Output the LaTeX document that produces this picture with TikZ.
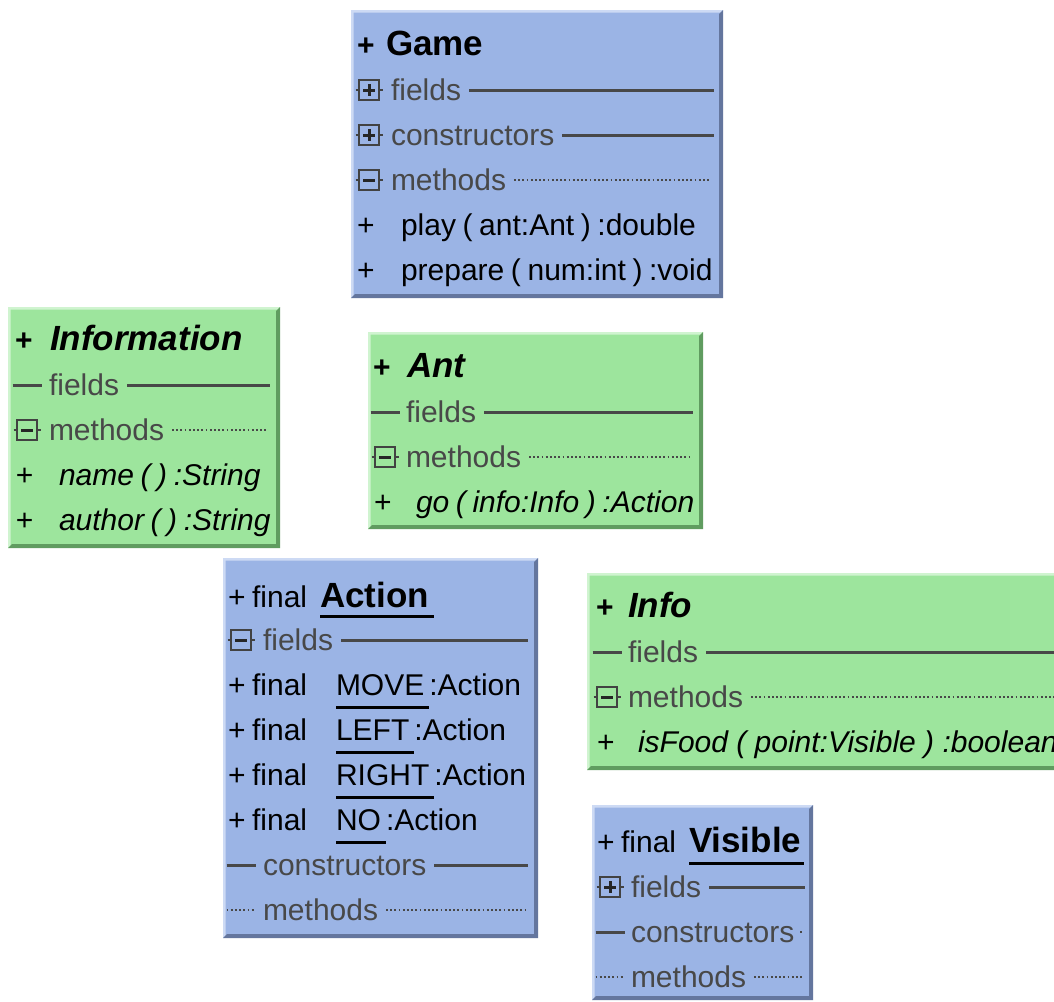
\documentclass[tikz,border=0pt]{standalone}
\usepackage{fontspec}
\setmainfont{Liberation Sans}
\usetikzlibrary{calc}

\definecolor{bluefill}{RGB}{155,180,229}
\definecolor{bluedark}{RGB}{100,118,158}
\definecolor{bluelight}{RGB}{205,218,244}
\definecolor{greenfill}{RGB}{157,229,157}
\definecolor{greendark}{RGB}{96,156,96}
\definecolor{greenlight}{RGB}{208,244,208}
\definecolor{secgray}{RGB}{72,72,72}
\definecolor{icongray}{RGB}{66,66,66}

\newcommand\umlbody{\fontsize{30}{30}\selectfont}
\newcommand\umltight{\fontsize{30}{30}\selectfont\spaceskip=6.6pt\relax}
\newcommand\umltitle{\fontsize{35}{35}\selectfont\bfseries}

% class compartment: left, top, right, bottom, colour family (blue/green)
\newcommand\classbox[5]{%
  \fill[#5fill] (#1,#2) rectangle (#3,#4);
  \fill[#5light] (#1,#2) -- (#3,#2) -- (#3-2.5,#2+2.5) -- (#1+2.5,#2+2.5)
                 -- (#1+2.5,#4-2.5) -- (#1,#4) -- cycle;
  \fill[#5dark] (#3,#2) -- (#3,#4) -- (#1,#4) -- (#1+4,#4-4)
                -- (#3-4,#4-4) -- (#3-4,#2+4) -- cycle;
}
% expand/collapse toggle: centre x, centre y, 1 = plus sign, 0 = minus sign
\newcommand\togglebox[3]{%
  \draw[iconline] (#1-13.5,#2) -- (#1-10,#2) (#1+10,#2) -- (#1+13.5,#2);
  \draw[iconline] (#1-10,#2-10) rectangle (#1+10,#2+10);
  \draw[iconsign] (#1-6,#2) -- (#1+6,#2);
  \ifnum#3=1 \draw[iconsign] (#1,#2-6) -- (#1,#2+6);\fi
}
% empty compartment markers
\newcommand\barmark[2]{\draw[sepline] (#1-14.5,#2) -- (#1+14.5,#2);}
\newcommand\dotmark[2]{\draw[sepdots] (#1-14.5,#2) -- (#1+14.5,#2);}

\tikzset{
  every node/.style={inner sep=0pt, outer sep=0pt},
  body/.style={font=\umltight, anchor=base west, text=black},
  bodyit/.style={font=\umltight\itshape, anchor=base west, text=black},
  sect/.style={font=\umlbody, anchor=base west, text=secgray},
  ttl/.style={font=\umltitle, anchor=base west, text=black},
  ttlit/.style={font=\umltitle\itshape, anchor=base west, text=black},
  ttlplus/.style={font=\umlbody\bfseries, anchor=base west, text=black},
  sepline/.style={draw=secgray, line width=3pt},
  sepdots/.style={draw=secgray, line width=2pt, dash pattern=on 1.8pt off 2.4pt},
  iconline/.style={draw=icongray, line width=2.6pt},
  iconsign/.style={draw=black!85, line width=3pt},
  uline/.style={draw=black, line width=3pt},
}

\begin{document}
\begin{tikzpicture}[x=1pt, y=-1pt]
\useasboundingbox (0,0) rectangle (1054,1001);
\fill[white] (0,0) rectangle (1054,1001);
\clip (0,0) rectangle (1054,1001);

% ---------------- Game ----------------
\classbox{351}{10}{723}{298}{blue}
\node[ttlplus] (g-plus) at (357,55) {+};
\node[ttl] (g-name) at (386,55) {Game};
\togglebox{369}{90}{1}
\node[sect] (g-f) at (391,100) {fields};
\draw[sepline] ($(g-f.base east)+(8,-10)$) coordinate (g-f-s) -- (g-f-s -| 714,0);
\togglebox{369}{135}{1}
\node[sect] (g-c) at (391,145) {constructors};
\draw[sepline] ($(g-c.base east)+(8,-10)$) coordinate (g-c-s) -- (g-c-s -| 714,0);
\togglebox{369}{180}{0}
\node[sect] (g-m) at (391,190) {methods};
\draw[sepdots] ($(g-m.base east)+(8,-10)$) coordinate (g-m-s) -- (g-m-s -| 711,0);
\node[body] (g-v1) at (357,235) {+};
\node[body] (g-op1) at (401,235) {play ( ant:Ant ) :double};
\node[body] (g-v2) at (357,280) {+};
\node[body] (g-op2) at (401,280) {prepare ( num:int ) :void};

% ---------------- Information ----------------
\classbox{8}{307}{280}{548}{green}
\node[ttlplus] (i-plus) at (15,350) {+};
\node[ttlit] (i-name) at (50,350) {Information};
\barmark{27}{385}
\node[sect] (i-f) at (49,395) {fields};
\draw[sepline] ($(i-f.base east)+(8,-10)$) coordinate (i-f-s) -- (i-f-s -| 270,0);
\togglebox{27}{430}{0}
\node[sect] (i-m) at (49,440) {methods};
\draw[sepdots] ($(i-m.base east)+(8,-10)$) coordinate (i-m-s) -- (i-m-s -| 267,0);
\node[body] (i-v1) at (16,485) {+};
\node[bodyit] (i-op1) at (59,485) {name ( ) :String};
\node[body] (i-v2) at (16,530) {+};
\node[bodyit] (i-op2) at (59,530) {author ( ) :String};

% ---------------- Ant ----------------
\classbox{368}{332}{703}{529}{green}
\node[ttlplus] (n-plus) at (373,377) {+};
\node[ttlit] (n-name) at (407,377) {Ant};
\barmark{385}{412}
\node[sect] (n-f) at (406,422) {fields};
\draw[sepline] ($(n-f.base east)+(8,-10)$) coordinate (n-f-s) -- (n-f-s -| 693,0);
\togglebox{385}{457}{0}
\node[sect] (n-m) at (406,467) {methods};
\draw[sepdots] ($(n-m.base east)+(8,-10)$) coordinate (n-m-s) -- (n-m-s -| 690,0);
\node[body] (n-v1) at (374,512) {+};
\node[bodyit] (n-op1) at (416,512) {go ( info:Info ) :Action};

% ---------------- Action ----------------
\classbox{223}{558}{538}{938}{blue}
\node[body] (a-mod) at (228,607) {+ final};
\node[ttl] (a-name) at (320,607) {Action};
\draw[uline] ($(a-name.base west)+(0,9)$) -- ($(a-name.base east)+(5,9)$);
\togglebox{241}{640}{0}
\node[sect] (a-f) at (263,650) {fields};
\draw[sepline] ($(a-f.base east)+(8,-10)$) coordinate (a-f-s) -- (a-f-s -| 528,0);
\foreach \lit/\yy in {MOVE/695, LEFT/740, RIGHT/785, NO/830}{
  \node[body] (a-mod-\lit) at (228,\yy) {+ final};
  \node[body] (a-lit-\lit) at (336,\yy) {\lit};
  \node[body] (a-typ-\lit) at ($(a-lit-\lit.base east)+(5,0)$) {:Action};
  \draw[uline] ($(a-lit-\lit.base west)+(0,12)$) -- ($(a-lit-\lit.base east)+(5,12)$);
}
\barmark{241}{865}
\node[sect] (a-c) at (263,875) {constructors};
\draw[sepline] ($(a-c.base east)+(8,-10)$) coordinate (a-c-s) -- (a-c-s -| 528,0);
\dotmark{241}{910}
\node[sect] (a-m) at (263,920) {methods};
\draw[sepdots] ($(a-m.base east)+(8,-10)$) coordinate (a-m-s) -- (a-m-s -| 528,0);

% ---------------- Info (runs past the right border) ----------------
\classbox{587}{573}{1090}{770}{green}
\node[ttlplus] (f-plus) at (596,617) {+};
\node[ttlit] (f-name) at (628,617) {Info};
\barmark{607}{652}
\node[sect] (f-f) at (628,662) {fields};
\draw[sepline] ($(f-f.base east)+(8,-10)$) coordinate (f-f-s) -- (f-f-s -| 1080,0);
\togglebox{607}{697}{0}
\node[sect] (f-m) at (628,707) {methods};
\draw[sepdots] ($(f-m.base east)+(8,-10)$) coordinate (f-m-s) -- (f-m-s -| 1080,0);
\node[body] (f-v1) at (597,752) {+};
\node[bodyit, font=\umlbody\itshape] (f-op1) at (638,752) {isFood ( point:Visible ) :boolean};

% ---------------- Visible ----------------
\classbox{592}{805}{813}{1000}{blue}
\node[body] (v-mod) at (597,852) {+ final};
\node[ttl] (v-name) at (689,852) {Visible};
\draw[uline] ($(v-name.base west)+(0,11)$) -- ($(v-name.base east)+(3,11)$);
\togglebox{610}{887}{1}
\node[sect] (v-f) at (631,897) {fields};
\draw[sepline] ($(v-f.base east)+(8,-10)$) coordinate (v-f-s) -- (v-f-s -| 805,0);
\barmark{610}{932}
\node[sect] (v-c) at (631,942) {constructors};
\draw[sepdots] ($(v-c.base east)+(6,-10)$) coordinate (v-c-s) -- ++(2,0);
\dotmark{610}{977}
\node[sect] (v-m) at (631,987) {methods};
\draw[sepdots] ($(v-m.base east)+(8,-10)$) coordinate (v-m-s) -- (v-m-s -| 802,0);
\end{tikzpicture}
\end{document}
